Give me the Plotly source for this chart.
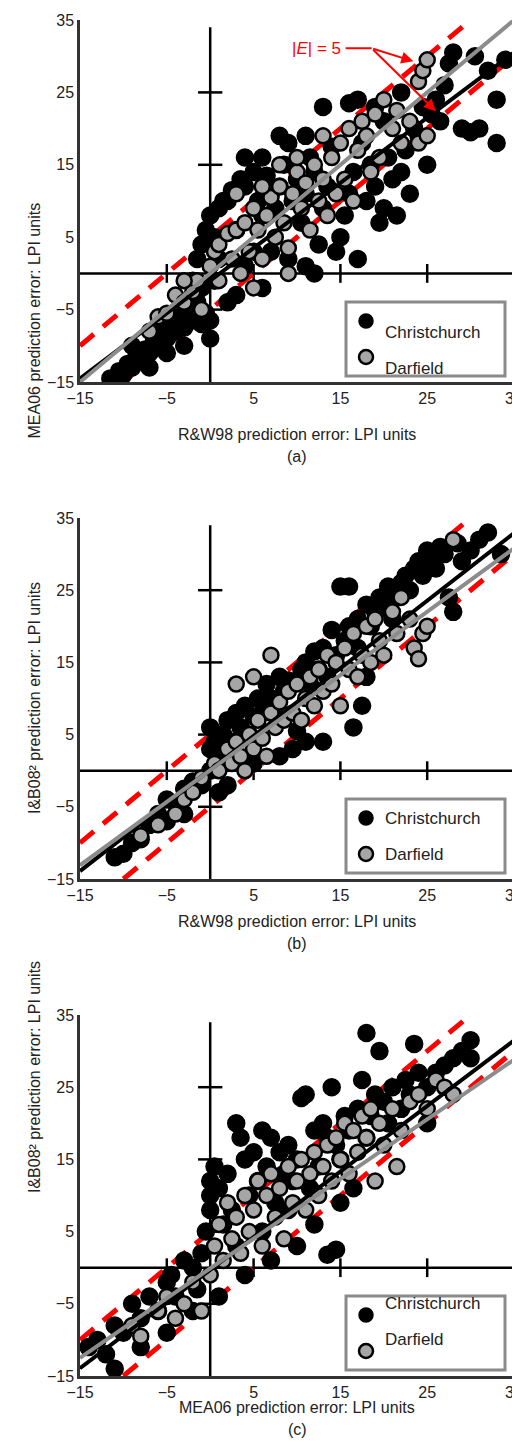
import plotly.graph_objects as go

# ---------------- data ----------------
a_ch_x = [-11.5,-10.5,-10,-9.5,-9,-8.5,-8,-7.5,-7,-6.5,-6,-5.5,-5,-4.5,-4,-3.5,-3,-2.5,-2,-1.5,-1,-0.5,0,-1,-2,-1.5,-1,-0.5,0,0.5,1,1.5,1,0.5,2,3,2.5,3.5,4,5,5.5,6,6.5,7,7.5,8,8.5,9,9.5,10,10.5,11,11.5,12,12.5,13,13.5,14,14.5,15,15.5,16,16.5,17,17.5,18,18.5,19,19.5,20,20.5,21,21.5,22,22.5,23,23.5,24,24.5,25,25.5,26,26.5,27,27.5,28,29,30,30.5,31,32,33,33,34,13,16,17,19,11,8,4,2,6,9,11,12,7,5,3,4,6,0,-3,-5,-7,-9,20,22]
a_ch_y = [-14.5,-13.5,-14,-12.5,-13,-11.5,-12,-10.5,-11,-9.5,-10,-8,-9,-7,-8,-6,-7.5,-5,-6.5,-4,-7,-5.5,-6.5,-2,-1,2,4,6,8,5,9,10,2,-1,-4,-3,11.5,13,12,14,10,8,13.5,11,9,12,15,18,10,13,7,11,16,14,4,9,12,17.5,3,5,8,11,14,2,18,10,15,12,7,9,16,13,8,14,17,11,20,19,23,15,22,24,21,26,29,30.5,20,19.5,30,20,28,18,24,29.5,23,23.5,24,23,19,19,16,10,16,2,1,0,3,3,6,1,-2,-9,-10,-11,-13,-10,21,25]
a_df_x = [-7,-6,-5,-4,-3,-2,-1.5,-1,0,0.5,1,2,2.5,3,3.5,4,4.5,5,5.5,6,6.5,7,7.5,8,8.5,9,9.5,10,10.5,11,11.5,12,12.5,13,13.5,14,14.5,15,15.5,16,16.5,17,17.5,18,18.5,19,19.5,20,21,21.5,22,23,24,24.5,25,24,25,3,6,8,10,13,-3,1,5,9]
a_df_y = [-8,-6,-5.5,-3,-4,-2.5,-1,-5,1,3,4,5.5,2,6,0,7,3,9,6,2,8,10.5,5,12,7,3.5,11,14,9,12.5,6,15,10,13,8,16,11,18,13,20,10,17,21,19,14,22,16,24,20,22.5,18,21,26.5,28,29.5,18,19,11,12,15,16,19,-1,-1,-2,0]

b_ch_x = [-11,-10,-9,-8,-7,-6,-5,-4,-3,-2,-1,0,0,0,0.5,1,1.5,2,2.5,3,3.5,4,4.5,5,5.5,6,6.5,7,7.5,8,8.5,9,9.5,10,10.5,11,11.5,12,12.5,13,13.5,14,14.5,15,15.5,16,16,16.5,17,17.5,18,18.5,19,19.5,20,20.5,21,21.5,22,22.5,23,23.5,24,24.5,25,25.5,26,26.5,27,27.5,28,28.5,29,30,31,32,33.5,18,17,13,11,-5,-3,1,2,5,8]
b_ch_y = [-12,-11.5,-10,-9.5,-7.5,-6,-4,-4.5,-2.5,-1.5,-2,0,3,6,4,2,5,7,4,8,6,9,5,7.5,10,8,12,10,9,13,11,12.5,3,5.5,14,15,12,16.5,14,17,13,19.5,16,25.5,18,25.5,20,6,21,9,23,20,22,24,22.5,25.5,21,24,26,27,25,28,29,27,30.5,29,28,31,30,24,22,31.5,29,30.5,32,33,30,13,17,4,4,-7,-6,-3,-2,1,2]
b_df_x = [-8,-6,-4,-3,-2,-1,0.5,1,2,2.5,3,3.5,4,4.5,5,5.5,6,6.5,7,7.5,8,8.5,9,9.5,10,10.5,11,11.5,12,12.5,13,13.5,14,14.5,15,15.5,16,16.5,17,17.5,18,18.5,19,19.5,20,21,21.5,22,23,23.5,24,24.5,25,3,5,7,28]
b_df_y = [-9,-7.5,-6,-4,-3,-1,1,0,3,1,4,2,0,5,3,7,4.5,2,8,6,9.5,7,11,8,12,7,10,13,9,14,11,16,12,15,9,17,14,19,13,16,20,15,21,18,16,22,19,24,21,17,15.5,19,20,12,13,16,32]

c_ch_x = [-14,-13,-12,-11,-10,-9,-8,-7,-6,-5,-4.5,-4,-3,-2,-1.5,-1,-0.5,0,0,0,0.5,1,1.5,2,2.5,3,3.5,4,4.5,5,5.5,6,6.5,7,7.5,8,8.5,9,9.5,10,10.5,11,11.5,12,12.5,13,13.5,14,14.5,15,15,15.5,16,16.5,17,17.5,18,18,18.5,19,19.5,20,20.5,21,22,22.5,23,23.5,24,25,25,26,27,28,29,30,30,-11,-8,-5,-2,1,4,7,10,13.5,14.5,12,9,6,3]
c_ch_y = [-11,-10,-12,-8,-9,-5,-7,-4,-6,-2,-1,-4,1,0,-3,2,5,10,8,12,14,11,6,13,8,20,18,15,10,16,12,19,14,18,9,16,13,17,12,15,23.5,24,11,19,14,20,18,25,17,9,15,21,19,11,22,26,32.5,18,21,24,30,23,20,25,22,26,24,31,27,20,25,27,28,29,30,31.5,29,-14,-11,-9,-6,-4,-1,1,3,1.8,2.5,6,8,5,3]
c_df_x = [-6,-5,-4,-3,-2,-1,0,0.5,1,1.5,2,2.5,3,3.5,4,4.5,5,5.5,6,6.5,7,7.5,8,8.5,9,9.5,10,10.5,11,11.5,12,12.5,13,13.5,14,14.5,15,15.5,16,16.5,17,17.5,18,18.5,19,19.5,20,21,21.5,22,23,24,25,26,27,28,-9,-8]
c_df_y = [-6,-4,-7,-5,-2,-6,-1,3,6,1,9,4,7,2,10,5,8,12,3,10,13,7,11,4,14,9,12,15,8,13,16,10,14,17,12,18,15,20,13,19,16,21,18,22,12,20,17,22,14,19,23,24,22,26,25,24,-8,-9.5]

# fit lines (slope, intercept) and |E| = 5 band
fit_ch = [(0.90, -1.0), (0.936, 0.14), (0.908, -0.3)]
fit_df = [(1.0, 0.0), (0.878, 0.07), (0.826, -0.1)]
band = 5
ticks = [-15, -5, 5, 15, 25, 35]
tick_text = ["\u221215", "\u22125", "5", "15", "25", "35"]
x_titles = ["R&W98 prediction error: LPI units", "R&W98 prediction error: LPI units",
            "MEA06 prediction error: LPI units"]
y_titles = ["MEA06 prediction error: LPI units", "I&B08\u00b2 prediction error: LPI units",
            "I&B08\u00b2 prediction error: LPI units"]
panel_labels = ["(a)", "(b)", "(c)"]
series_names = ["Christchurch", "Darfield"]

panels = [(a_ch_x, a_ch_y, a_df_x, a_df_y), (b_ch_x, b_ch_y, b_df_x, b_df_y),
          (c_ch_x, c_ch_y, c_df_x, c_df_y)]

# ---------------- layout geometry (pixels) ----------------
W, H = 520, 1446
X0, X1 = 72, 506
tops = [12, 510, 1007]
bots = [374, 871, 1368]
FONT = "Liberation Sans, Arial, sans-serif"

fig = go.Figure()
shapes, annos = [], []

def py(p):
    return 1 - p / H

for i, (cx, cy, dx, dy) in enumerate(panels):
    xa = "x" if i == 0 else f"x{i+1}"
    ya = "y" if i == 0 else f"y{i+1}"
    xr = "xaxis" if i == 0 else f"xaxis{i+1}"
    yr = "yaxis" if i == 0 else f"yaxis{i+1}"
    for off in (band, -band):
        lx = [max(-15, -15 - off), min(35, 35 - off)]
        fig.add_trace(go.Scatter(x=lx, y=[v + off for v in lx], mode="lines", xaxis=xa, yaxis=ya,
                                 line=dict(color="#ff0000", width=5, dash="18px,12px"),
                                 showlegend=False, hoverinfo="skip"))
    fig.add_trace(go.Scatter(x=cx, y=cy, mode="markers", xaxis=xa, yaxis=ya, name=series_names[0],
                             marker=dict(size=17, color="black", line=dict(color="black", width=1.5)),
                             showlegend=False))
    fig.add_trace(go.Scatter(x=dx, y=dy, mode="markers", xaxis=xa, yaxis=ya, name=series_names[1],
                             marker=dict(size=15, color="#a6a6a6", line=dict(color="black", width=2.5)),
                             showlegend=False))
    for (m, b), col in ((fit_ch[i], "black"), (fit_df[i], "#8c8c8c")):
        lx = [-15, 35]
        fig.add_trace(go.Scatter(x=lx, y=[m * v + b for v in lx], mode="lines", xaxis=xa, yaxis=ya,
                                 line=dict(color=col, width=4), showlegend=False, hoverinfo="skip"))
    dom_y = [py(bots[i]), py(tops[i])]
    fig.layout[xr] = dict(domain=[X0 / W, X1 / W], range=[-15, 35], anchor=ya, tickvals=ticks,
                          ticktext=tick_text, showgrid=False, zeroline=False, showline=True,
                          linecolor="#333", linewidth=2.5, ticks="", automargin=False,
                          tickfont=dict(size=16, color="#222", family=FONT))
    fig.layout[yr] = dict(domain=dom_y, range=[-15, 35], anchor=xa, tickvals=ticks,
                          ticktext=tick_text, showgrid=False, zeroline=False, showline=True,
                          linecolor="#333", linewidth=2.5, ticks="", automargin=False,
                          tickfont=dict(size=16, color="#222", family=FONT))
    shapes.append(dict(type="line", xref=xa, yref=ya, x0=0, x1=0, y0=-15, y1=34, layer="below",
                       line=dict(color="black", width=2.5)))
    shapes.append(dict(type="line", xref=xa, yref=ya, x0=-15, x1=35, y0=0, y1=0, layer="below",
                       line=dict(color="black", width=2.5)))
    for t in (-5, 5, 15, 25):
        shapes.append(dict(type="line", xref=xa, yref=ya, x0=-1.4, x1=1.4, y0=t, y1=t, layer="below",
                           line=dict(color="black", width=2.5)))
        shapes.append(dict(type="line", xref=xa, yref=ya, x0=t, x1=t, y0=-1.3, y1=1.3, layer="below",
                           line=dict(color="black", width=2.5)))
    annos.append(dict(xref="paper", yref="paper", x=(X0 + X1) / 2 / W, y=py(bots[i] + 42),
                      text=x_titles[i], showarrow=False, font=dict(size=16, color="#222", family=FONT)))
    annos.append(dict(xref="paper", yref="paper", x=0.5 * (X0 + X1) / W, y=py(bots[i] + 64),
                      text=panel_labels[i], showarrow=False, font=dict(size=16, color="#222", family=FONT)))
    annos.append(dict(xref="paper", yref="paper", x=16 / W, y=py((tops[i] + bots[i]) / 2),
                      text=y_titles[i], textangle=-90, showarrow=False,
                      font=dict(size=16, color="#222", family=FONT)))
    lx0, lx1 = 338, 497
    ly0 = bots[i] - 80
    ly1 = bots[i] - 6
    shapes.append(dict(type="rect", xref="paper", yref="paper", x0=lx0 / W, x1=lx1 / W,
                       y0=py(ly1), y1=py(ly0), fillcolor="white",
                       line=dict(color="#8a8a8a", width=3)))
    for k, (fc, lw) in enumerate((("black", 1.5), ("#a6a6a6", 2.5))):
        cyp = ly0 + 19 + k * 36
        shapes.append(dict(type="circle", xref="paper", yref="paper",
                           x0=(358 - 7) / W, x1=(358 + 7) / W, y0=py(cyp + 7), y1=py(cyp - 7),
                           fillcolor=fc, line=dict(color="black", width=lw)))
        annos.append(dict(xref="paper", yref="paper", x=375 / W, y=py(cyp), xanchor="left",
                          text=series_names[k], showarrow=False,
                          font=dict(size=17, color="#222", family=FONT)))

annos.append(dict(xref="x", yref="y", x=15.3, y=31.1, xanchor="right", text="|<i>E</i>| = 5",
                  showarrow=False, font=dict(size=17, color="#ff0000", family=FONT)))
shapes.append(dict(type="line", xref="x", yref="y", x0=15.6, x1=18.6, y0=31.1, y1=31.1,
                   line=dict(color="#ff0000", width=2)))
for tx, ty in ((23.4, 29.3), (26.0, 22.4)):
    annos.append(dict(xref="x", yref="y", x=tx, y=ty, axref="x", ayref="y", ax=18.6, ay=31.1,
                      showarrow=True, arrowhead=2, arrowsize=1.2, arrowwidth=2, arrowcolor="#ff0000",
                      text=""))

fig.update_layout(width=W, height=H, margin=dict(l=0, r=0, t=0, b=0, autoexpand=False),
                  plot_bgcolor="white", paper_bgcolor="white", shapes=shapes, annotations=annos,
                  showlegend=False, font=dict(family=FONT))
fig.write_html("out.html")
